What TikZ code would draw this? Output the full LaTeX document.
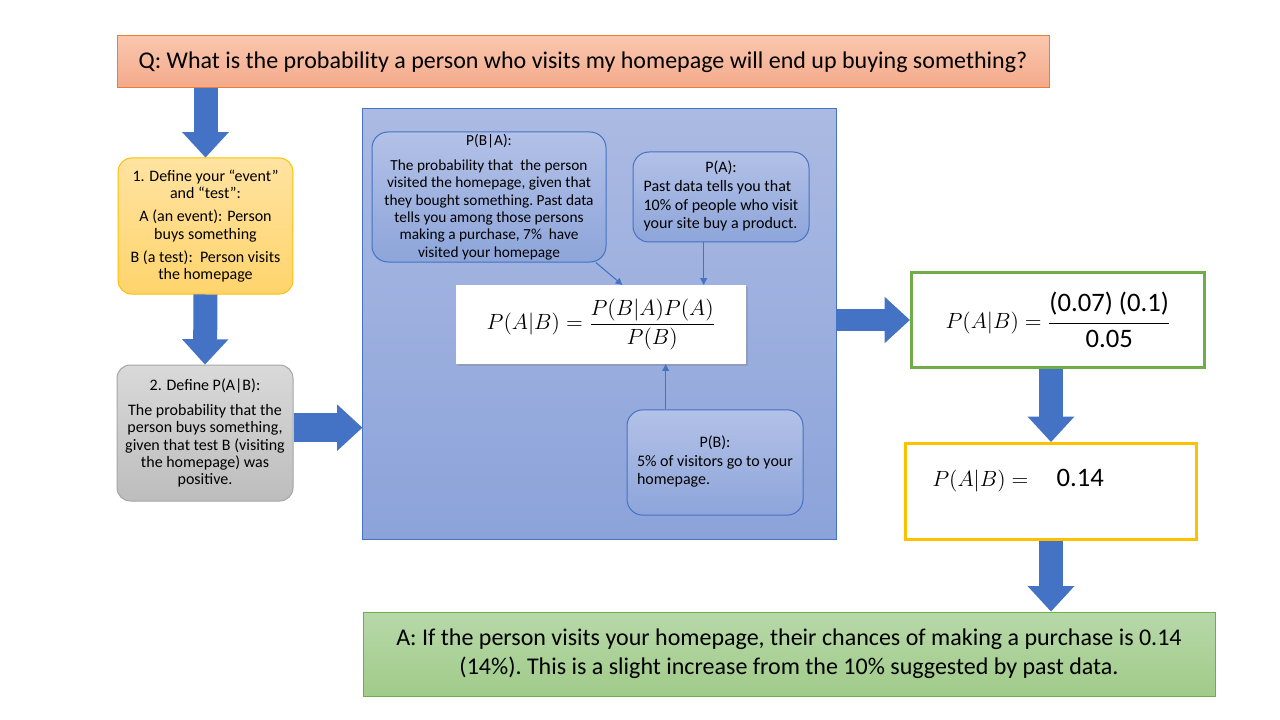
\RequirePackage{fix-cm}
\documentclass[tikz,border=0pt]{standalone}
\usepackage{amsmath}
\usepackage{fontspec}
\setmainfont{Carlito}
\usetikzlibrary{arrows.meta,shadows}

\definecolor{arrowblue}{HTML}{4472C4}
\definecolor{qline}{HTML}{ED7D31}
\definecolor{qtop}{HTML}{F9C7AE}
\definecolor{qbot}{HTML}{F4A98A}
\definecolor{evtop}{HTML}{FFE3A1}
\definecolor{evbot}{HTML}{FFD46C}
\definecolor{evline}{HTML}{FFC000}
\definecolor{gytop}{HTML}{D9D9D9}
\definecolor{gybot}{HTML}{BDBDBD}
\definecolor{gyline}{HTML}{A5A5A5}
\definecolor{bltop}{HTML}{ABBAE2}
\definecolor{blbot}{HTML}{8CA3DA}
\definecolor{intop}{HTML}{B3C1E7}
\definecolor{inbot}{HTML}{8DA5DA}
\definecolor{grline}{HTML}{70AD47}
\definecolor{antop}{HTML}{B7D8A9}
\definecolor{anbot}{HTML}{A0CB89}

\begin{document}
\begin{tikzpicture}[x=0.75pt,y=-0.75pt,
  every node/.style={font=\fontsize{12}{13}\selectfont,inner sep=0pt},
  bigarrow/.style={draw=arrowblue,line width=18pt,-{Triangle[length=19pt,width=35pt,line width=0pt]}},
  link/.style={draw=arrowblue,line width=0.8pt,-{Triangle[length=5pt,width=5pt]}},
  flatbox/.style={draw,line width=0.75pt},
  softbox/.style={draw,line width=0.75pt,rounded corners=10pt,align=center},
  innerbox/.style={softbox,draw=arrowblue,top color=intop,bottom color=inbot,rounded corners=12pt}]
\path[use as bounding box,fill=white] (0,0) rectangle (1280,720);

% question and the two definitions
\node[flatbox,draw=qline,top color=qtop,bottom color=qbot,minimum width=699pt,minimum height=39pt,font=\fontsize{18}{22}\selectfont] (q) at (583,62) {Q: What is the probability a person who visits my homepage will end up buying something?};
\node[softbox,draw=evline,top color=evtop,bottom color=evbot,minimum width=131pt,minimum height=102pt] (def1) at (205.5,226) {1. Define your “event”\\ and “test”:\\[4.5pt] A (an event): Person\\ buys something\\[4.5pt] B (a test):\ \ Person visits\\ the homepage};
\node[softbox,draw=gyline,top color=gytop,bottom color=gybot,minimum width=132pt,minimum height=102pt] (def2) at (205,433) {2. Define P(A|B):\\[6pt] The probability that the\\ person buys something,\\ given that test B (visiting\\ the homepage) was\\ positive.};

% Bayes panel
\node[flatbox,draw=arrowblue,top color=bltop,bottom color=blbot,minimum width=355pt,minimum height=322.5pt] (bayes) at (599.5,324) {};
\node[innerbox,minimum width=175.5pt,minimum height=97.5pt,font=\fontsize{11.5}{13}\selectfont] (pba) at (489,197) {P(B|A):\\[6pt] The probability that\ \ the person\\ visited the homepage, given that\\ they bought something.\ Past data\\ tells you among those persons\\ making a purchase, 7\%\ \ have\\ visited your homepage};
\node[innerbox,minimum width=132pt,minimum height=67.5pt,font=\fontsize{12}{14}\selectfont] (pa) at (721,197) {\begin{tabular}{@{}l@{}}\multicolumn{1}{@{}c@{}}{P(A):}\\ Past data tells you that\\ 10\% of people who visit\\ your site buy a product.\end{tabular}};
\node[innerbox,minimum width=132pt,minimum height=79pt,font=\fontsize{12}{14}\selectfont] (pb) at (715,462.5) {\begin{tabular}{@{}l@{}}\multicolumn{1}{@{}c@{}}{P(B):}\\ 5\% of visitors go to your\\ homepage.\end{tabular}};
\node[fill=white,drop shadow={shadow xshift=1.5pt,shadow yshift=-1.5pt,opacity=0.35},minimum width=217.5pt,minimum height=59pt,font=\fontsize{16.5}{19}\selectfont] (formula) at (601,324.5) {$\displaystyle P(A|B)=\frac{P(B|A)P(A)}{P(B)}$};

% results
\node[flatbox,draw=grline,line width=2.25pt,fill=white,minimum width=220pt,minimum height=71.5pt,font=\fontsize{16.5}{19}\selectfont] (calc) at (1058,320) {$\displaystyle P(A|B)=\frac{\text{\fontsize{20}{22}\selectfont (0.07) (0.1)}\rule[-6pt]{0pt}{6pt}}{\rule{0pt}{16pt}\text{\fontsize{20}{22}\selectfont 0.05}}$};
\node[flatbox,draw=evline,line width=2.25pt,fill=white,minimum width=218.5pt,minimum height=72pt] (result) at (1051,491.5) {};
\node[anchor=west,font=\fontsize{16.5}{19}\selectfont] (resval) at (932,481) {$P(A|B)=$\hspace{21pt}{\fontsize{20}{22}\selectfont 0.14}};
\node[flatbox,draw=grline,top color=antop,bottom color=anbot,minimum width=639pt,minimum height=63pt,align=center,font=\fontsize{18}{22}\selectfont] (ans) at (789,654) {A: If the person visits your homepage, their chances of making a purchase is 0.14\\ (14\%).\ This is a slight increase from the 10\% suggested by past data.};

% block arrows
\draw[bigarrow] (q.south -| def1.north) -- (def1.north);
\draw[bigarrow] (def1.south) -- (def2.north);
\draw[bigarrow,line width=22pt] ([yshift=4pt]def2.east) coordinate (d2out) -- (d2out -| bayes.west);
\draw[bigarrow,line width=16pt] (bayes.east |- calc.west) -- (calc.west);
\draw[bigarrow] (calc.south -| result.north) -- (result.north);
\draw[bigarrow] (result.south) -- (result.south |- ans.north);

% thin links into the formula
\coordinate (pbaout) at ([xshift=-8pt]pba.south east);
\coordinate (paout) at ([xshift=-13pt]pa.south);
\coordinate (pbout) at ([xshift=-37pt]pb.north);
\draw[link] (pbaout) -- ([xshift=16pt]formula.north);
\draw[link] (paout) -- (paout |- formula.north);
\draw[link] (pbout) -- (pbout |- formula.south);
\end{tikzpicture}
\end{document}
